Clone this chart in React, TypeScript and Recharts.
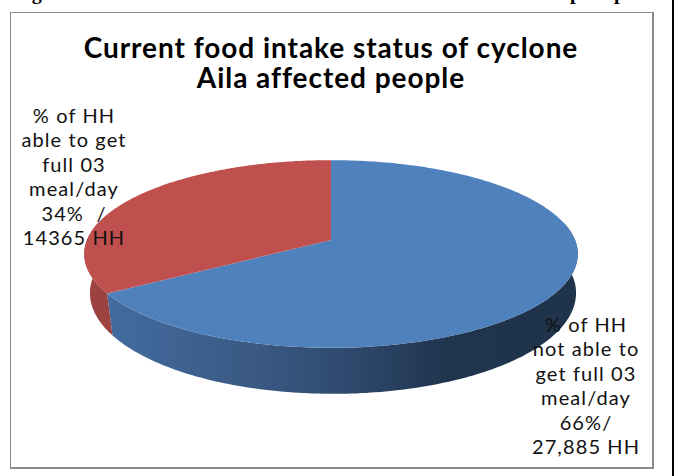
import { PieChart, Pie, Cell } from "recharts"

const groups = ["able", "notAble"]
const households = [27885, 14365]
const topColors = ["#4f81bd", "#c0504d"]
const titleLines = ["Current food intake status of cyclone", "Aila affected people"]
const labelLines = [
  ["% of HH", "not able to", "get full 03", "meal/day", "66%/", "27,885 HH"],
  ["% of HH", "able to get", "full 03", "meal/day", "34%  /", "14365 HH"],
]
const labelCenters = [
  { x: 586, y: 332 },
  { x: 74, y: 123 },
]

const data = households.map((value, i) => ({ name: groups[i], value }))

const wallStops = [
  [
    [0, "#446ea3"],
    [0.33, "#3a5a85"],
    [0.53, "#2f4a6e"],
    [0.74, "#20344e"],
    [1, "#1f334b"],
  ],
  [
    [0, "#9c4240"],
    [1, "#a54745"],
  ],
]

// tilt of the disc: perspective strength, and the squash of its top and bottom faces
const PERSPECTIVE = 0.149
const TOP_SQUASH = 0.376
const BOTTOM_SQUASH = 0.404
const BOTTOM_WIDTH = 0.985
const BOTTOM_DROP = 38
const BOTTOM_SHIFT = 2

function project(cx: number, cy: number, r: number, deg: number, squash: number, widthScale: number, drop: number, shift: number) {
  const a = (deg * Math.PI) / 180
  const u = Math.sin(a)
  const v = -Math.cos(a)
  const d = 1 - PERSPECTIVE * v
  return [cx + shift + (r * widthScale * u) / d, cy + drop + (r * squash * v) / d]
}

function Slice3D(props: any) {
  const { cx, cy, outerRadius: r, startAngle, endAngle, fill, index } = props
  const from = 90 - startAngle
  const to = 90 - endAngle
  const top: number[][] = []
  const wallTop: number[][] = []
  const wallBottom: number[][] = []
  for (let deg = from; deg <= to + 0.001; deg += (to - from) / 240) {
    const rim = project(cx, cy, r, deg, TOP_SQUASH, 1, 0, 0)
    top.push(rim)
    // the back of the wall sits behind the top face, so only the front part is drawn
    if (-Math.cos((deg * Math.PI) / 180) > -0.2) {
      wallTop.push(rim)
      wallBottom.push(project(cx, cy, r, deg, BOTTOM_SQUASH, BOTTOM_WIDTH, BOTTOM_DROP, BOTTOM_SHIFT))
    }
  }
  const pts = (list: number[][]) => list.map((p) => p[0].toFixed(1) + "," + p[1].toFixed(1)).join(" L")
  const wall = "M" + pts(wallTop) + " L" + pts([...wallBottom].reverse()) + " Z"
  const face = "M" + cx + "," + cy + " L" + pts(top) + " Z"
  const id = "wall" + index
  return (
    <g>
      <defs>
        <linearGradient id={id} gradientUnits="userSpaceOnUse" x1={cx - r} x2={cx + r} y1={0} y2={0}>
          {wallStops[index].map(([o, c]) => (
            <stop key={o} offset={o} stopColor={c as string} />
          ))}
        </linearGradient>
      </defs>
      <path d={wall} fill={index === 1 ? wallStops[1][0][1] as string : "url(#" + id + ")"} />
      <path d={face} fill={fill} />
    </g>
  )
}

function renderLabel({ index }: any) {
  const at = labelCenters[index]
  return (
    <text textAnchor="middle" fontFamily="Lato" fontSize={20} fill="#111" letterSpacing={1.1}>
      {labelLines[index].map((line, i) => (
        <tspan key={i} x={at.x} y={at.y + i * 24.4} xmlSpace="preserve">
          {line}
        </tspan>
      ))}
    </text>
  )
}

export default function App() {
  return (
    <div style={{ position: "absolute", left: 0, top: 0, width: 675, height: 476, background: "#fff", overflow: "hidden" }}>
      <div style={{ position: "absolute", left: 10, top: 12, width: 641, height: 454, borderStyle: "solid", borderColor: "#8a8a8a", borderWidth: "1.5px 2.5px 2px 1.5px" }} />
      <div style={{ position: "absolute", left: 672, top: 0, width: 2, height: 476, background: "#000" }} />
      <PieChart width={675} height={476} margin={{ top: 0, right: 0, bottom: 0, left: 0 }} style={{ position: "absolute", left: 0, top: 0 }}>
        <text x={14} y={-1} fontFamily="Liberation Serif" fontSize={20} fontWeight="bold" fill="#000">Figure</text>
        <text x={570} y={-1} fontFamily="Liberation Serif" fontSize={20} fontWeight="bold" letterSpacing={4.7} fill="#000">people</text>
        {titleLines.map((line, i) => (
          <text key={i} x={331} y={58 + i * 30} textAnchor="middle" fontFamily="Lato" fontWeight="bold" fontSize={28} letterSpacing={0.95} fill="#000">
            {line}
          </text>
        ))}
        <Pie
          data={data}
          dataKey="value"
          cx={331}
          cy={240}
          outerRadius={244}
          startAngle={90}
          endAngle={-270}
          stroke="none"
          shape={Slice3D}
          label={renderLabel}
          labelLine={false}
          isAnimationActive={false}
        >
          {data.map((_, i) => (
            <Cell key={i} fill={topColors[i]} />
          ))}
        </Pie>
      </PieChart>
    </div>
  )
}
